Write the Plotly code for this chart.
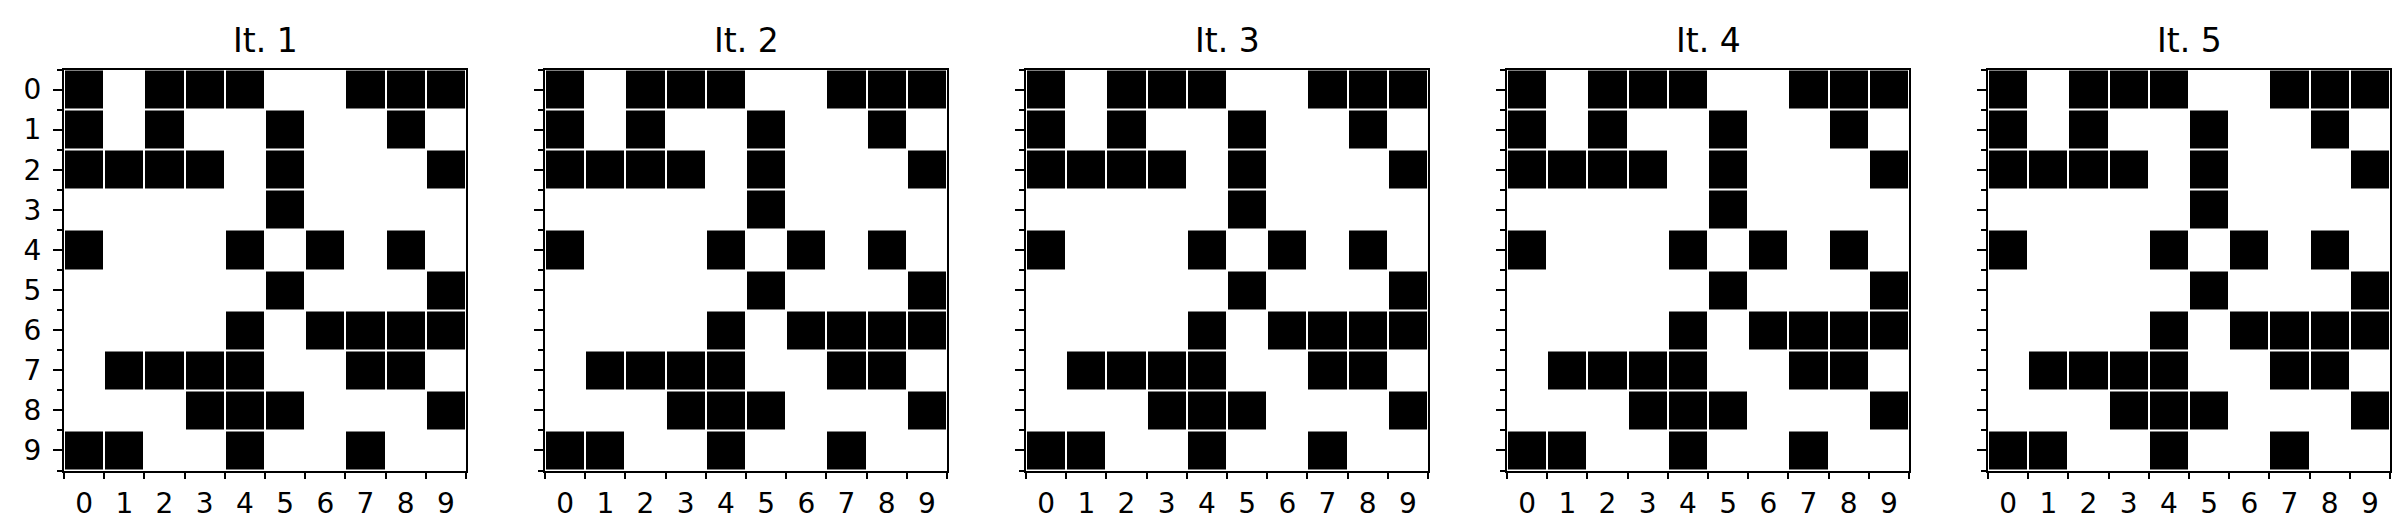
import plotly.graph_objects as go

titles = ["It. 1", "It. 2", "It. 3", "It. 4", "It. 5"]
tick_labels = ["0", "1", "2", "3", "4", "5", "6", "7", "8", "9"]

grid = [
    [1, 0, 1, 1, 1, 0, 0, 1, 1, 1],
    [1, 0, 1, 0, 0, 1, 0, 0, 1, 0],
    [1, 1, 1, 1, 0, 1, 0, 0, 0, 1],
    [0, 0, 0, 0, 0, 1, 0, 0, 0, 0],
    [1, 0, 0, 0, 1, 0, 1, 0, 1, 0],
    [0, 0, 0, 0, 0, 1, 0, 0, 0, 1],
    [0, 0, 0, 0, 1, 0, 1, 1, 1, 1],
    [0, 1, 1, 1, 1, 0, 0, 1, 1, 0],
    [0, 0, 0, 1, 1, 1, 0, 0, 0, 1],
    [1, 1, 0, 0, 1, 0, 0, 1, 0, 0],
]
iterations = [grid, grid, grid, grid, grid]

W, H = 2402, 530
left0, step, pw = 56, 481, 402
top, bottom = 61.5, 462.5

fig = go.Figure()
idx = list(range(10))
bounds = [i - 0.5 for i in range(11)]
font = "DejaVu Sans, Verdana, sans-serif"

for k, z in enumerate(iterations):
    n = "" if k == 0 else str(k + 1)
    fig.add_trace(go.Heatmap(
        z=z, x=idx, y=idx, xaxis="x" + n, yaxis="y" + n,
        colorscale=[[0, "white"], [1, "black"]], zmin=0, zmax=1,
        showscale=False, xgap=2, ygap=2, hoverinfo="skip",
    ))
    x0 = (left0 + k * step) / W
    x1 = (left0 + k * step + pw) / W
    common = dict(showline=True, linecolor="black", linewidth=2, mirror=True,
                  showgrid=False, zeroline=False, tickcolor="black", tickwidth=2,
                  tickfont=dict(family=font, size=28, color="black"))
    fig.layout["xaxis" + n] = dict(
        domain=[x0, x1], anchor="y" + n, range=[-0.5, 9.5],
        tickmode="array", tickvals=idx, ticktext=tick_labels,
        ticks="", ticklabelstandoff=7,
        minor=dict(tickmode="array", tickvals=bounds, ticks="outside",
                   ticklen=6, tickcolor="black", tickwidth=2, showgrid=False),
        **common,
    )
    fig.layout["yaxis" + n] = dict(
        domain=[(H - bottom) / H, (H - top) / H], anchor="x" + n,
        range=[9.5, -0.5],
        tickmode="array", tickvals=idx, ticktext=tick_labels,
        showticklabels=(k == 0), ticklabelstandoff=6,
        ticks="outside", ticklen=9,
        minor=dict(tickmode="array", tickvals=bounds, ticks="outside",
                   ticklen=5, tickcolor="black", tickwidth=2, showgrid=False),
        **common,
    )
    fig.add_annotation(
        text=titles[k], xref="paper", yref="paper",
        x=(x0 + x1) / 2, y=(H - 33) / H, xanchor="center", yanchor="middle",
        showarrow=False, font=dict(family=font, size=33, color="black"),
    )

fig.update_layout(
    width=W, height=H, margin=dict(l=0, r=0, t=0, b=0),
    paper_bgcolor="white", plot_bgcolor="white", showlegend=False,
)

fig.write_html("out.html")
